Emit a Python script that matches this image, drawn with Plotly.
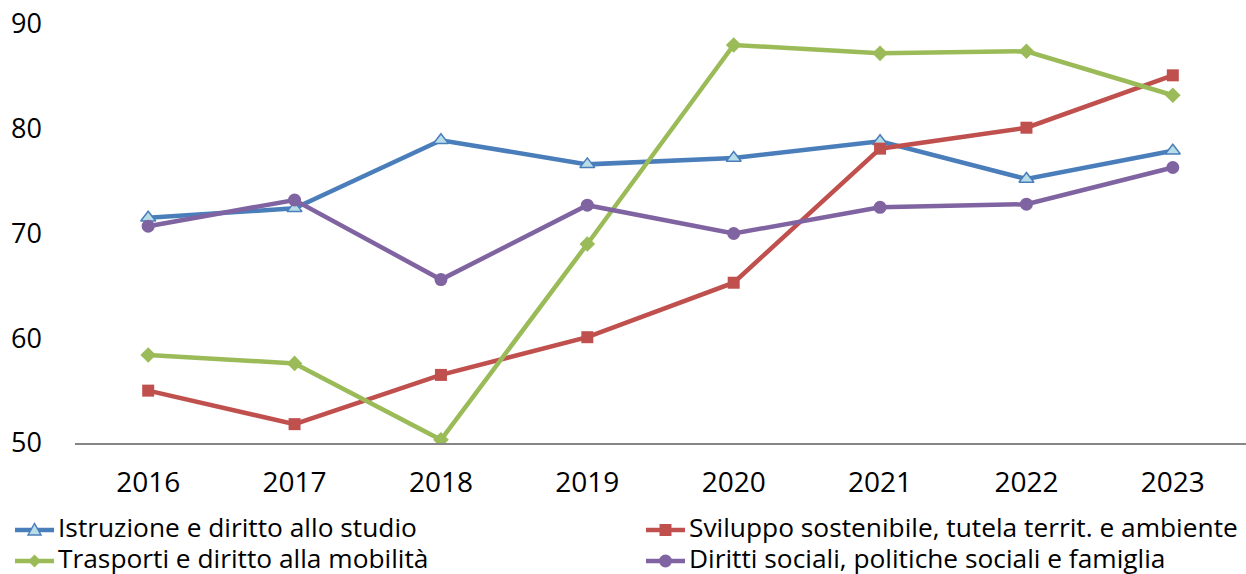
import plotly.graph_objects as go

years = ["2016", "2017", "2018", "2019", "2020", "2021", "2022", "2023"]

istruzione = [71.5, 72.4, 78.9, 76.6, 77.2, 78.8, 75.2, 77.9]
sviluppo = [55.0, 51.8, 56.5, 60.1, 65.3, 78.1, 80.1, 85.1]
trasporti = [58.4, 57.6, 50.3, 69.0, 88.0, 87.2, 87.4, 83.2]
diritti = [70.7, 73.2, 65.6, 72.7, 70.0, 72.5, 72.8, 76.3]

W, H = 1246, 574
FONT = "Open Sans, Noto Sans, sans-serif"

# (name, values, line colour, marker fill, marker outline, symbol)
series = [
    ("Istruzione e diritto allo studio", istruzione, "#4A7EBB", "#B7DEE8", "#4A7EBB", "triangle-up"),
    ("Sviluppo sostenibile, tutela territ. e ambiente", sviluppo, "#C0504D", "#C0504D", "#C0504D", "square"),
    ("Trasporti e diritto alla mobilità", trasporti, "#9BBB59", "#9BBB59", "#9BBB59", "diamond"),
    ("Diritti sociali, politiche sociali e famiglia", diritti, "#8064A2", "#8064A2", "#8064A2", "circle"),
]
marker_size = {"triangle-up": 13, "square": 12, "diamond": 12, "circle": 13}

fig = go.Figure()
for name, vals, color, fill, outline, symbol in series:
    fig.add_trace(go.Scatter(
        x=years, y=vals, name=name, mode="lines+markers", showlegend=False,
        line=dict(color=color, width=4.5),
        marker=dict(symbol=symbol, size=marker_size[symbol], color=fill,
                    line=dict(color=outline, width=1.5 if fill != outline else 0)),
    ))


# Legend drawn as a 2x2 grid below the plot (pixel layout -> paper coords)
def px(x):
    return x / W


def py(y):
    return 1 - y / H


def path(points):
    return "M " + " L ".join(f"{px(x):.5f},{py(y):.5f}" for x, y in points) + " Z"


legend_cols = [15, 646]      # left edge of the line sample
legend_rows = [530, 561]     # vertical centre of each legend row
sample_len = 39
text_lift = 3                # line box centre sits slightly below the glyphs

shapes, annotations = [], []
for i, (name, _, color, fill, outline, symbol) in enumerate(series):
    x0 = legend_cols[i % 2]
    yc = legend_rows[i // 2]
    xm = x0 + sample_len / 2
    shapes.append(dict(type="line", xref="paper", yref="paper",
                       x0=px(x0), x1=px(x0 + sample_len), y0=py(yc), y1=py(yc),
                       line=dict(color=color, width=4.5)))
    mk = dict(xref="paper", yref="paper", fillcolor=fill,
              line=dict(color=outline, width=1.5 if fill != outline else 0))
    if symbol == "triangle-up":
        shapes.append(dict(type="path", path=path([(xm - 6.5, yc + 5), (xm, yc - 6.5), (xm + 6.5, yc + 5)]), **mk))
    elif symbol == "square":
        shapes.append(dict(type="rect", x0=px(xm - 6), x1=px(xm + 6), y0=py(yc + 6), y1=py(yc - 6), **mk))
    elif symbol == "diamond":
        shapes.append(dict(type="path", path=path([(xm, yc - 6.5), (xm + 6.5, yc), (xm, yc + 6.5), (xm - 6.5, yc)]), **mk))
    else:
        shapes.append(dict(type="circle", x0=px(xm - 6.5), x1=px(xm + 6.5), y0=py(yc + 6.5), y1=py(yc - 6.5), **mk))
    annotations.append(dict(
        text=name, xref="paper", yref="paper", x=px(x0 + sample_len + 2), y=py(yc - text_lift),
        xanchor="left", yanchor="middle", showarrow=False,
        font=dict(family=FONT, size=26.3, color="black"),
    ))

fig.update_layout(
    width=W, height=H,
    margin=dict(l=0, r=0, t=0, b=0),
    paper_bgcolor="white", plot_bgcolor="white",
    font=dict(family=FONT, size=26, color="black"),
    showlegend=False,
    shapes=shapes,
    annotations=annotations,
    xaxis=dict(
        type="category", domain=[75 / W, 1.0], automargin=False,
        showgrid=False, showline=True, linecolor="#868686",
        linewidth=1.5, ticks="", tickfont=dict(size=28), range=[-0.5, 7.5],
        ticklabelstandoff=14,
    ),
    yaxis=dict(
        domain=[1 - 443 / H, 1 - 24 / H], automargin=False,
        range=[50, 90], tickvals=[50, 60, 70, 80, 90], showgrid=False,
        zeroline=False, showline=False, ticks="", tickfont=dict(size=27),
        ticklabelstandoff=32,
    ),
)

fig.write_html("out.html")
